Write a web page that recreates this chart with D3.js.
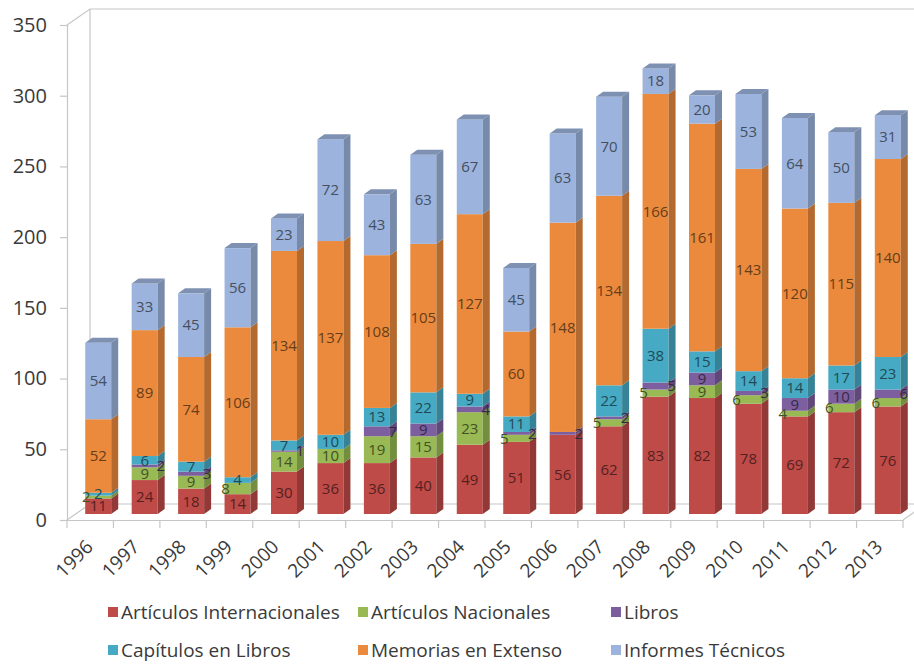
<!DOCTYPE html>
<html lang="es">

<head>
  <meta charset="utf-8">
  <title>Productos por año</title>
  <script src="https://cdn.jsdelivr.net/npm/d3@7"></script>
  <style>
    body { margin: 0; background: #fff; }
    text { font-family: "Open Sans", sans-serif; }
  </style>
</head>

<body>
  <script>
    var years = ["1996", "1997", "1998", "1999", "2000", "2001", "2002", "2003", "2004",
      "2005", "2006", "2007", "2008", "2009", "2010", "2011", "2012", "2013"];
    var seriesNames = ["Artículos Internacionales", "Artículos Nacionales", "Libros",
      "Capítulos en Libros", "Memorias en Extenso", "Informes Técnicos"];
    var seriesColors = ["#bf4b48", "#98b954", "#7d5fa0", "#46aac4", "#eb8a3c", "#9cb4dd"];
    var artInternacionales = [11, 24, 18, 14, 30, 36, 36, 40, 49, 51, 56, 62, 83, 82, 78, 69, 72, 76];
    var artNacionales = [2, 9, 9, 8, 14, 10, 19, 15, 23, 5, 0, 5, 5, 9, 6, 4, 6, 6];
    var libros = [0, 2, 3, 0, 1, 0, 7, 9, 4, 2, 2, 2, 5, 9, 3, 9, 10, 6];
    var capitulos = [2, 6, 7, 4, 7, 10, 13, 22, 9, 11, 0, 22, 38, 15, 14, 14, 17, 23];
    var memorias = [52, 89, 74, 106, 134, 137, 108, 105, 127, 60, 148, 134, 166, 161, 143, 120, 115, 140];
    var informes = [54, 33, 45, 56, 23, 72, 43, 63, 67, 45, 63, 70, 18, 20, 53, 64, 50, 31];
    var yTicks = [0, 50, 100, 150, 200, 250, 300, 350];

    var w = 914;
    var h = 664;
    var depth = { dx: 23, dy: -16 };   // 3D wall depth
    var bar = { offX: -5, offY: -6, width: 26, dx: 7, dy: -5 };

    var x = d3.scaleBand()
      .domain(years)
      .range([67, 903]);
    var y = d3.scaleLinear()
      .domain([0, 350])
      .range([520, 25]);

    var svg = d3.select("body").append("svg")
      .attr("width", w)
      .attr("height", h);

    // walls
    var walls = svg.append("g")
      .attr("fill", "none")
      .attr("stroke", "#c6c6c6")
      .attr("stroke-width", 1.2);
    var x0 = x.range()[0], x1 = x.range()[1];
    walls.append("path")
      .attr("d", "M" + x0 + "," + y(350) + "L" + (x0 + depth.dx) + "," + (y(350) + depth.dy) +
        "L" + (x1 + 30) + "," + (y(350) + depth.dy));
    walls.append("path")
      .attr("d", "M" + (x0 + depth.dx) + "," + (y(350) + depth.dy) + "V" + (y(0) + depth.dy) +
        "H" + (x1 + depth.dx));
    walls.append("path")
      .attr("d", "M" + x0 + "," + y(0) + "L" + (x0 + depth.dx) + "," + (y(0) + depth.dy));
    walls.append("path")
      .attr("d", "M" + x1 + "," + y(0) + "L" + (x1 + depth.dx) + "," + (y(0) + depth.dy));

    // y axis
    var yAxis = svg.append("g")
      .attr("transform", "translate(" + x0 + ",0)")
      .call(d3.axisLeft(y).tickValues(yTicks).tickSize(7).tickPadding(13));
    yAxis.select(".domain").attr("stroke", "#c6c6c6").attr("stroke-width", 1.2);
    yAxis.selectAll(".tick line").attr("stroke", "#c6c6c6").attr("stroke-width", 1.2);
    yAxis.selectAll(".tick text")
      .attr("font-size", 20)
      .attr("fill", "#3a3a3a");

    // x axis
    var xAxis = svg.append("g")
      .attr("transform", "translate(0," + y(0) + ")")
      .call(d3.axisBottom(x).tickSize(0).tickPadding(0));
    xAxis.select(".domain").attr("stroke", "#c6c6c6").attr("stroke-width", 1.2);
    xAxis.selectAll(".tick text")
      .attr("font-size", 19)
      .attr("fill", "#3a3a3a")
      .attr("text-anchor", "end")
      .attr("dy", 0)
      .attr("transform", "translate(4,28) rotate(-45)");
    xAxis.selectAll(".boundary")
      .data(years.concat(["end"]))
      .enter()
      .append("line")
      .classed("boundary", true)
      .attr("x1", function (datum, idx) {
        return idx < years.length ? x(datum) : x1;
      })
      .attr("x2", function (datum, idx) {
        return idx < years.length ? x(datum) : x1;
      })
      .attr("y1", 0)
      .attr("y2", 8)
      .attr("stroke", "#c6c6c6")
      .attr("stroke-width", 1.2);

    // stacked 3D bars
    var rows = years.map(function (yr, idx) {
      return {
        year: yr,
        s0: artInternacionales[idx], s1: artNacionales[idx], s2: libros[idx],
        s3: capitulos[idx], s4: memorias[idx], s5: informes[idx]
      };
    });
    var stack = d3.stack().keys(["s0", "s1", "s2", "s3", "s4", "s5"]);
    var layers = stack(rows);

    function left(yr) {
      return x(yr) + x.bandwidth() / 2 + bar.offX;
    }
    function yy(v) {
      return y(v) + bar.offY;
    }

    var barsG = svg.append("g");
    years.forEach(function (yr, i) {
      var g = barsG.append("g");
      var lx = left(yr);
      var rx = lx + bar.width;
      layers.forEach(function (layer, k) {
        var seg = layer[i];
        var v = seg[1] - seg[0];
        if (v <= 0) return;
        var col = d3.color(seriesColors[k]);
        var yt = yy(seg[1]), yb = yy(seg[0]);
        g.append("rect")
          .attr("x", lx)
          .attr("y", yt)
          .attr("width", bar.width)
          .attr("height", yb - yt)
          .attr("fill", col);
        g.append("path")
          .attr("d", "M" + rx + "," + yb + "L" + (rx + bar.dx) + "," + (yb + bar.dy) +
            "L" + (rx + bar.dx) + "," + (yt + bar.dy) + "L" + rx + "," + yt + "Z")
          .attr("fill", col.darker(0.75));
      });
      var topK = 5;
      while (topK > 0 && layers[topK][i][1] - layers[topK][i][0] <= 0) topK--;
      var topY = yy(layers[topK][i][1]);
      g.append("path")
        .attr("d", "M" + lx + "," + topY + "L" + (lx + bar.dx) + "," + (topY + bar.dy) +
          "L" + (rx + bar.dx) + "," + (topY + bar.dy) + "L" + rx + "," + topY + "Z")
        .attr("fill", d3.color(seriesColors[topK]).darker(0.6));
    });

    // data labels; thin segments get their label nudged sideways like Excel does
    function labelX(seg, k) {
      var lx = left(seg.data.year);
      var hgt = yy(seg[0]) - yy(seg[1]);
      if (hgt < 12) {
        if (k === 1) return lx + 1;
        if (k === 2) return lx + bar.width + 3;
      }
      return lx + bar.width / 2;
    }
    function labelAnchor(seg, k) {
      var hgt = yy(seg[0]) - yy(seg[1]);
      if (hgt < 12 && (k === 1 || k === 2)) return "middle";
      return "middle";
    }
    layers.forEach(function (layer, k) {
      barsG.selectAll(".lbl" + k)
        .data(layer.filter(function (seg) { return seg[1] - seg[0] > 0; }))
        .enter()
        .append("text")
        .attr("class", "lbl" + k)
        .attr("x", function (seg) { return labelX(seg, k); })
        .attr("y", function (seg) { return (yy(seg[0]) + yy(seg[1])) / 2; })
        .attr("dy", "0.35em")
        .attr("text-anchor", function (seg) { return labelAnchor(seg, k); })
        .attr("font-size", 15)
        .attr("fill", d3.color(seriesColors[k]).darker(2.3))
        .text(function (seg) { return seg[1] - seg[0]; });
    });

    // legend
    var legendPos = [[108, 612], [358, 612], [611, 612], [108, 650], [358, 650], [611, 650]];
    var legend = svg.append("g");
    var items = legend.selectAll(".item")
      .data(seriesNames)
      .enter()
      .append("g")
      .attr("transform", function (datum, idx) {
        return "translate(" + legendPos[idx][0] + "," + legendPos[idx][1] + ")";
      });
    items.append("rect")
      .attr("x", 0)
      .attr("y", -5)
      .attr("width", 10)
      .attr("height", 10)
      .attr("fill", function (datum, idx) { return seriesColors[idx]; });
    items.append("text")
      .attr("x", 13)
      .attr("dy", "0.35em")
      .attr("font-size", 19)
      .attr("fill", "#3a3a3a")
      .text(function (datum) { return datum; });
  </script>
</body>

</html>
